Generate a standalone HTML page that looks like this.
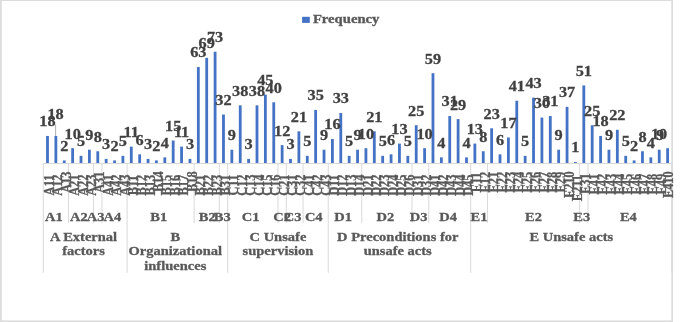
<!DOCTYPE html>
<html><head><meta charset="utf-8"><style>
html,body{margin:0;padding:0;background:#fff;}
body{width:685px;height:322px;overflow:hidden;}
svg{display:block;}
text{font-family:"Liberation Serif","Times New Roman",serif;font-weight:bold;}
.lg{font-size:13.1px;fill:#595959;stroke:#595959;stroke-width:0.35px;}
.cl{font-size:12.4px;fill:#595959;stroke:#595959;stroke-width:0.25px;text-anchor:middle;dominant-baseline:auto;}
.gl{font-size:13.3px;fill:#595959;stroke:#595959;stroke-width:0.3px;text-anchor:middle;}
.dl{font-size:15.5px;fill:#404040;stroke:#404040;stroke-width:0.3px;text-anchor:middle;}
</style></head><body>
<svg width="685" height="322" viewBox="0 0 685 322">
<rect x="0" y="0" width="685" height="322" fill="#fff"/>
<rect x="0" y="0" width="673" height="0.9" fill="#d9d9d9"/>
<rect x="0" y="0" width="1.7" height="322" fill="#dcdcdc"/>
<rect x="671.3" y="0" width="1.7" height="322" fill="#dcdcdc"/>
<rect x="0" y="320.4" width="673" height="1.6" fill="#dcdcdc"/>
<rect x="302.1" y="16.8" width="7.7" height="6.1" fill="#4472c4"/>
<text class="lg" transform="translate(312.9 22.9) scale(1.12 1)">Frequency</text>
<rect x="46.09" y="135.94" width="2.80" height="27.56" fill="#4472c4"/>
<rect x="54.47" y="135.94" width="2.80" height="27.56" fill="#4472c4"/>
<rect x="62.85" y="160.44" width="2.80" height="3.06" fill="#4472c4"/>
<rect x="71.23" y="148.19" width="2.80" height="15.31" fill="#4472c4"/>
<rect x="79.61" y="155.84" width="2.80" height="7.65" fill="#4472c4"/>
<rect x="87.99" y="149.72" width="2.80" height="13.78" fill="#4472c4"/>
<rect x="96.37" y="151.25" width="2.80" height="12.25" fill="#4472c4"/>
<rect x="104.75" y="158.91" width="2.80" height="4.59" fill="#4472c4"/>
<rect x="113.13" y="160.44" width="2.80" height="3.06" fill="#4472c4"/>
<rect x="121.51" y="155.84" width="2.80" height="7.65" fill="#4472c4"/>
<rect x="129.89" y="146.66" width="2.80" height="16.84" fill="#4472c4"/>
<rect x="138.27" y="154.31" width="2.80" height="9.19" fill="#4472c4"/>
<rect x="146.65" y="158.91" width="2.80" height="4.59" fill="#4472c4"/>
<rect x="155.03" y="160.44" width="2.80" height="3.06" fill="#4472c4"/>
<rect x="163.41" y="157.38" width="2.80" height="6.12" fill="#4472c4"/>
<rect x="171.79" y="140.53" width="2.80" height="22.96" fill="#4472c4"/>
<rect x="180.17" y="146.66" width="2.80" height="16.84" fill="#4472c4"/>
<rect x="188.55" y="158.91" width="2.80" height="4.59" fill="#4472c4"/>
<rect x="196.93" y="67.05" width="2.80" height="96.45" fill="#4472c4"/>
<rect x="205.31" y="57.86" width="2.80" height="105.64" fill="#4472c4"/>
<rect x="213.69" y="51.74" width="2.80" height="111.76" fill="#4472c4"/>
<rect x="222.07" y="114.51" width="2.80" height="48.99" fill="#4472c4"/>
<rect x="230.45" y="149.72" width="2.80" height="13.78" fill="#4472c4"/>
<rect x="238.83" y="105.32" width="2.80" height="58.18" fill="#4472c4"/>
<rect x="247.21" y="158.91" width="2.80" height="4.59" fill="#4472c4"/>
<rect x="255.59" y="105.32" width="2.80" height="58.18" fill="#4472c4"/>
<rect x="263.97" y="94.61" width="2.80" height="68.89" fill="#4472c4"/>
<rect x="272.35" y="102.26" width="2.80" height="61.24" fill="#4472c4"/>
<rect x="280.73" y="145.13" width="2.80" height="18.37" fill="#4472c4"/>
<rect x="289.11" y="158.91" width="2.80" height="4.59" fill="#4472c4"/>
<rect x="297.49" y="131.35" width="2.80" height="32.15" fill="#4472c4"/>
<rect x="305.87" y="155.84" width="2.80" height="7.65" fill="#4472c4"/>
<rect x="314.25" y="109.92" width="2.80" height="53.58" fill="#4472c4"/>
<rect x="322.63" y="149.72" width="2.80" height="13.78" fill="#4472c4"/>
<rect x="331.01" y="139.00" width="2.80" height="24.50" fill="#4472c4"/>
<rect x="339.39" y="112.98" width="2.80" height="50.52" fill="#4472c4"/>
<rect x="347.77" y="155.84" width="2.80" height="7.65" fill="#4472c4"/>
<rect x="356.15" y="149.72" width="2.80" height="13.78" fill="#4472c4"/>
<rect x="364.53" y="148.19" width="2.80" height="15.31" fill="#4472c4"/>
<rect x="372.91" y="131.35" width="2.80" height="32.15" fill="#4472c4"/>
<rect x="381.29" y="155.84" width="2.80" height="7.65" fill="#4472c4"/>
<rect x="389.67" y="154.31" width="2.80" height="9.19" fill="#4472c4"/>
<rect x="398.05" y="143.60" width="2.80" height="19.90" fill="#4472c4"/>
<rect x="406.43" y="155.84" width="2.80" height="7.65" fill="#4472c4"/>
<rect x="414.81" y="125.22" width="2.80" height="38.27" fill="#4472c4"/>
<rect x="423.19" y="148.19" width="2.80" height="15.31" fill="#4472c4"/>
<rect x="431.57" y="73.17" width="2.80" height="90.33" fill="#4472c4"/>
<rect x="439.95" y="157.38" width="2.80" height="6.12" fill="#4472c4"/>
<rect x="448.33" y="116.04" width="2.80" height="47.46" fill="#4472c4"/>
<rect x="456.71" y="119.10" width="2.80" height="44.40" fill="#4472c4"/>
<rect x="465.09" y="157.38" width="2.80" height="6.12" fill="#4472c4"/>
<rect x="473.47" y="143.60" width="2.80" height="19.90" fill="#4472c4"/>
<rect x="481.85" y="151.25" width="2.80" height="12.25" fill="#4472c4"/>
<rect x="490.23" y="128.29" width="2.80" height="35.21" fill="#4472c4"/>
<rect x="498.61" y="154.31" width="2.80" height="9.19" fill="#4472c4"/>
<rect x="506.99" y="137.47" width="2.80" height="26.03" fill="#4472c4"/>
<rect x="515.37" y="100.73" width="2.80" height="62.77" fill="#4472c4"/>
<rect x="523.75" y="155.84" width="2.80" height="7.65" fill="#4472c4"/>
<rect x="532.13" y="97.67" width="2.80" height="65.83" fill="#4472c4"/>
<rect x="540.51" y="117.57" width="2.80" height="45.93" fill="#4472c4"/>
<rect x="548.89" y="116.04" width="2.80" height="47.46" fill="#4472c4"/>
<rect x="557.27" y="149.72" width="2.80" height="13.78" fill="#4472c4"/>
<rect x="565.65" y="106.85" width="2.80" height="56.65" fill="#4472c4"/>
<rect x="574.03" y="161.97" width="2.80" height="1.53" fill="#4472c4"/>
<rect x="582.41" y="85.42" width="2.80" height="78.08" fill="#4472c4"/>
<rect x="590.79" y="125.22" width="2.80" height="38.27" fill="#4472c4"/>
<rect x="599.17" y="135.94" width="2.80" height="27.56" fill="#4472c4"/>
<rect x="607.55" y="149.72" width="2.80" height="13.78" fill="#4472c4"/>
<rect x="615.93" y="129.82" width="2.80" height="33.68" fill="#4472c4"/>
<rect x="624.31" y="155.84" width="2.80" height="7.65" fill="#4472c4"/>
<rect x="632.69" y="160.44" width="2.80" height="3.06" fill="#4472c4"/>
<rect x="641.07" y="151.25" width="2.80" height="12.25" fill="#4472c4"/>
<rect x="649.45" y="157.38" width="2.80" height="6.12" fill="#4472c4"/>
<rect x="657.83" y="149.72" width="2.80" height="13.78" fill="#4472c4"/>
<rect x="666.21" y="148.19" width="2.80" height="15.31" fill="#4472c4"/>
<line x1="43.30" y1="163.5" x2="671.80" y2="163.5" stroke="#d9d9d9" stroke-width="1"/>
<line x1="43.30" y1="163" x2="43.30" y2="272.8" stroke="#d9d9d9" stroke-width="1"/>
<line x1="127.10" y1="163" x2="127.10" y2="272.8" stroke="#d9d9d9" stroke-width="1"/>
<line x1="227.66" y1="163" x2="227.66" y2="272.8" stroke="#d9d9d9" stroke-width="1"/>
<line x1="328.22" y1="163" x2="328.22" y2="272.8" stroke="#d9d9d9" stroke-width="1"/>
<line x1="470.68" y1="163" x2="470.68" y2="272.8" stroke="#d9d9d9" stroke-width="1"/>
<line x1="671.80" y1="163" x2="671.80" y2="272.8" stroke="#d9d9d9" stroke-width="1"/>
<line x1="68.44" y1="163" x2="68.44" y2="223" stroke="#d9d9d9" stroke-width="1"/>
<line x1="93.58" y1="163" x2="93.58" y2="223" stroke="#d9d9d9" stroke-width="1"/>
<line x1="101.96" y1="163" x2="101.96" y2="223" stroke="#d9d9d9" stroke-width="1"/>
<line x1="194.14" y1="163" x2="194.14" y2="223" stroke="#d9d9d9" stroke-width="1"/>
<line x1="219.28" y1="163" x2="219.28" y2="223" stroke="#d9d9d9" stroke-width="1"/>
<line x1="277.94" y1="163" x2="277.94" y2="223" stroke="#d9d9d9" stroke-width="1"/>
<line x1="286.32" y1="163" x2="286.32" y2="223" stroke="#d9d9d9" stroke-width="1"/>
<line x1="303.08" y1="163" x2="303.08" y2="223" stroke="#d9d9d9" stroke-width="1"/>
<line x1="361.74" y1="163" x2="361.74" y2="223" stroke="#d9d9d9" stroke-width="1"/>
<line x1="412.02" y1="163" x2="412.02" y2="223" stroke="#d9d9d9" stroke-width="1"/>
<line x1="428.78" y1="163" x2="428.78" y2="223" stroke="#d9d9d9" stroke-width="1"/>
<line x1="487.44" y1="163" x2="487.44" y2="223" stroke="#d9d9d9" stroke-width="1"/>
<line x1="579.62" y1="163" x2="579.62" y2="223" stroke="#d9d9d9" stroke-width="1"/>
<line x1="588.00" y1="163" x2="588.00" y2="223" stroke="#d9d9d9" stroke-width="1"/>
<text class="cl" transform="translate(54.09 185.20) scale(1.12 1) rotate(-90)">A11</text>
<text class="cl" transform="translate(62.47 185.20) scale(1.12 1) rotate(-90)">A12</text>
<text class="cl" transform="translate(70.85 182.20) scale(1.12 1) rotate(-90)">A13</text>
<text class="cl" transform="translate(79.23 185.20) scale(1.12 1) rotate(-90)">A21</text>
<text class="cl" transform="translate(87.61 185.20) scale(1.12 1) rotate(-90)">A22</text>
<text class="cl" transform="translate(95.99 185.20) scale(1.12 1) rotate(-90)">A23</text>
<text class="cl" transform="translate(104.37 182.20) scale(1.12 1) rotate(-90)">A31</text>
<text class="cl" transform="translate(112.75 185.20) scale(1.12 1) rotate(-90)">A41</text>
<text class="cl" transform="translate(121.13 185.20) scale(1.12 1) rotate(-90)">A42</text>
<text class="cl" transform="translate(129.51 185.20) scale(1.12 1) rotate(-90)">A43</text>
<text class="cl" transform="translate(137.89 185.20) scale(1.12 1) rotate(-90)">B11</text>
<text class="cl" transform="translate(146.27 185.20) scale(1.12 1) rotate(-90)">B12</text>
<text class="cl" transform="translate(154.65 185.20) scale(1.12 1) rotate(-90)">B13</text>
<text class="cl" transform="translate(163.03 181.70) scale(1.12 1) rotate(-90)">B14</text>
<text class="cl" transform="translate(171.41 185.20) scale(1.12 1) rotate(-90)">B15</text>
<text class="cl" transform="translate(179.79 185.20) scale(1.12 1) rotate(-90)">B16</text>
<text class="cl" transform="translate(188.17 185.20) scale(1.12 1) rotate(-90)">B17</text>
<text class="cl" transform="translate(196.55 181.70) scale(1.12 1) rotate(-90)">B18</text>
<text class="cl" transform="translate(204.93 185.20) scale(1.12 1) rotate(-90)">B21</text>
<text class="cl" transform="translate(213.31 185.20) scale(1.12 1) rotate(-90)">B22</text>
<text class="cl" transform="translate(221.69 185.20) scale(1.12 1) rotate(-90)">B23</text>
<text class="cl" transform="translate(230.07 185.20) scale(1.12 1) rotate(-90)">B31</text>
<text class="cl" transform="translate(238.45 185.20) scale(1.12 1) rotate(-90)">C11</text>
<text class="cl" transform="translate(246.83 185.20) scale(1.12 1) rotate(-90)">C12</text>
<text class="cl" transform="translate(255.21 185.20) scale(1.12 1) rotate(-90)">C13</text>
<text class="cl" transform="translate(263.59 185.20) scale(1.12 1) rotate(-90)">C14</text>
<text class="cl" transform="translate(271.97 185.20) scale(1.12 1) rotate(-90)">C15</text>
<text class="cl" transform="translate(280.35 185.20) scale(1.12 1) rotate(-90)">C16</text>
<text class="cl" transform="translate(288.73 185.20) scale(1.12 1) rotate(-90)">C21</text>
<text class="cl" transform="translate(297.11 185.20) scale(1.12 1) rotate(-90)">C31</text>
<text class="cl" transform="translate(305.49 185.20) scale(1.12 1) rotate(-90)">C32</text>
<text class="cl" transform="translate(313.87 185.20) scale(1.12 1) rotate(-90)">C41</text>
<text class="cl" transform="translate(322.25 185.20) scale(1.12 1) rotate(-90)">C42</text>
<text class="cl" transform="translate(330.63 185.20) scale(1.12 1) rotate(-90)">C43</text>
<text class="cl" transform="translate(339.01 185.20) scale(1.12 1) rotate(-90)">D11</text>
<text class="cl" transform="translate(347.39 185.20) scale(1.12 1) rotate(-90)">D12</text>
<text class="cl" transform="translate(355.77 185.20) scale(1.12 1) rotate(-90)">D13</text>
<text class="cl" transform="translate(364.15 185.20) scale(1.12 1) rotate(-90)">D14</text>
<text class="cl" transform="translate(372.53 185.20) scale(1.12 1) rotate(-90)">D21</text>
<text class="cl" transform="translate(380.91 185.20) scale(1.12 1) rotate(-90)">D22</text>
<text class="cl" transform="translate(389.29 185.20) scale(1.12 1) rotate(-90)">D23</text>
<text class="cl" transform="translate(397.67 185.20) scale(1.12 1) rotate(-90)">D24</text>
<text class="cl" transform="translate(406.05 185.20) scale(1.12 1) rotate(-90)">D25</text>
<text class="cl" transform="translate(414.43 185.20) scale(1.12 1) rotate(-90)">D26</text>
<text class="cl" transform="translate(422.81 185.20) scale(1.12 1) rotate(-90)">D31</text>
<text class="cl" transform="translate(431.19 185.20) scale(1.12 1) rotate(-90)">D32</text>
<text class="cl" transform="translate(439.57 185.20) scale(1.12 1) rotate(-90)">D41</text>
<text class="cl" transform="translate(447.95 185.20) scale(1.12 1) rotate(-90)">D42</text>
<text class="cl" transform="translate(456.33 185.20) scale(1.12 1) rotate(-90)">D43</text>
<text class="cl" transform="translate(464.71 185.20) scale(1.12 1) rotate(-90)">D44</text>
<text class="cl" transform="translate(473.09 185.20) scale(1.12 1) rotate(-90)">D45</text>
<text class="cl" transform="translate(481.47 182.20) scale(1.12 1) rotate(-90)">E11</text>
<text class="cl" transform="translate(489.85 182.20) scale(1.12 1) rotate(-90)">E12</text>
<text class="cl" transform="translate(498.23 182.20) scale(1.12 1) rotate(-90)">E21</text>
<text class="cl" transform="translate(506.61 182.20) scale(1.12 1) rotate(-90)">E22</text>
<text class="cl" transform="translate(514.99 182.20) scale(1.12 1) rotate(-90)">E23</text>
<text class="cl" transform="translate(523.37 182.20) scale(1.12 1) rotate(-90)">E24</text>
<text class="cl" transform="translate(531.75 182.20) scale(1.12 1) rotate(-90)">E25</text>
<text class="cl" transform="translate(540.13 182.20) scale(1.12 1) rotate(-90)">E26</text>
<text class="cl" transform="translate(548.51 182.20) scale(1.12 1) rotate(-90)">E27</text>
<text class="cl" transform="translate(556.89 182.20) scale(1.12 1) rotate(-90)">E28</text>
<text class="cl" transform="translate(565.27 182.20) scale(1.12 1) rotate(-90)">E29</text>
<text class="cl" transform="translate(573.65 184.70) scale(1.12 1) rotate(-90)">E210</text>
<text class="cl" transform="translate(582.03 188.20) scale(1.12 1) rotate(-90)">E211</text>
<text class="cl" transform="translate(590.41 183.70) scale(1.12 1) rotate(-90)">E31</text>
<text class="cl" transform="translate(598.79 184.20) scale(1.12 1) rotate(-90)">E41</text>
<text class="cl" transform="translate(607.17 184.20) scale(1.12 1) rotate(-90)">E42</text>
<text class="cl" transform="translate(615.55 184.20) scale(1.12 1) rotate(-90)">E43</text>
<text class="cl" transform="translate(623.93 184.20) scale(1.12 1) rotate(-90)">E44</text>
<text class="cl" transform="translate(632.31 184.20) scale(1.12 1) rotate(-90)">E45</text>
<text class="cl" transform="translate(640.69 184.20) scale(1.12 1) rotate(-90)">E46</text>
<text class="cl" transform="translate(649.07 184.20) scale(1.12 1) rotate(-90)">E47</text>
<text class="cl" transform="translate(657.45 184.20) scale(1.12 1) rotate(-90)">E48</text>
<text class="cl" transform="translate(665.83 184.20) scale(1.12 1) rotate(-90)">E49</text>
<text class="cl" transform="translate(673.01 184.70) scale(1.12 1) rotate(-90)">E410</text>
<text class="gl" transform="translate(53.97 221.2) scale(1.09 1)">A1</text>
<text class="gl" transform="translate(78.91 221.2) scale(1.09 1)">A2</text>
<text class="gl" transform="translate(95.67 221.2) scale(1.09 1)">A3</text>
<text class="gl" transform="translate(112.43 221.2) scale(1.09 1)">A4</text>
<text class="gl" transform="translate(158.82 221.2) scale(1.09 1)">B1</text>
<text class="gl" transform="translate(207.21 221.2) scale(1.09 1)">B2</text>
<text class="gl" transform="translate(222.17 221.2) scale(1.09 1)">B3</text>
<text class="gl" transform="translate(250.60 221.2) scale(1.09 1)">C1</text>
<text class="gl" transform="translate(282.13 221.2) scale(1.09 1)">C2</text>
<text class="gl" transform="translate(292.70 221.2) scale(1.09 1)">C3</text>
<text class="gl" transform="translate(313.75 221.2) scale(1.09 1)">C4</text>
<text class="gl" transform="translate(343.18 221.2) scale(1.09 1)">D1</text>
<text class="gl" transform="translate(385.28 221.2) scale(1.09 1)">D2</text>
<text class="gl" transform="translate(418.70 221.2) scale(1.09 1)">D3</text>
<text class="gl" transform="translate(448.03 221.2) scale(1.09 1)">D4</text>
<text class="gl" transform="translate(479.06 221.2) scale(1.09 1)">E1</text>
<text class="gl" transform="translate(533.53 221.2) scale(1.09 1)">E2</text>
<text class="gl" transform="translate(581.81 221.2) scale(1.09 1)">E3</text>
<text class="gl" transform="translate(628.40 221.2) scale(1.09 1)">E4</text>
<text class="gl" transform="translate(83.50 240.80) scale(1.09 1)">A External</text>
<text class="gl" transform="translate(83.50 255.20) scale(1.09 1)">factors</text>
<text class="gl" transform="translate(175.28 240.80) scale(1.09 1)">B</text>
<text class="gl" transform="translate(175.28 255.20) scale(1.09 1)">Organizational</text>
<text class="gl" transform="translate(175.28 269.60) scale(1.09 1)">influences</text>
<text class="gl" transform="translate(277.94 240.80) scale(1.09 1)">C Unsafe</text>
<text class="gl" transform="translate(277.94 255.20) scale(1.09 1)">supervision</text>
<text class="gl" transform="translate(397.75 240.80) scale(1.09 1)">D Preconditions for</text>
<text class="gl" transform="translate(397.75 255.20) scale(1.09 1)">unsafe acts</text>
<text class="gl" transform="translate(571.24 240.80) scale(1.09 1)">E Unsafe acts</text>
<text class="dl" transform="translate(47.49 126.34) scale(1.05 1)">18</text>
<text class="dl" transform="translate(55.57 119.34) scale(1.05 1)">18</text>
<line x1="55.6" y1="124.6" x2="55.6" y2="135.94" stroke="#a6a6a6" stroke-width="0.9"/>
<text class="dl" transform="translate(64.25 150.84) scale(1.05 1)">2</text>
<text class="dl" transform="translate(72.63 138.59) scale(1.05 1)">10</text>
<text class="dl" transform="translate(81.01 146.25) scale(1.05 1)">5</text>
<text class="dl" transform="translate(89.39 140.12) scale(1.05 1)">9</text>
<text class="dl" transform="translate(97.77 141.65) scale(1.05 1)">8</text>
<text class="dl" transform="translate(106.15 149.31) scale(1.05 1)">3</text>
<text class="dl" transform="translate(114.53 150.84) scale(1.05 1)">2</text>
<text class="dl" transform="translate(122.91 146.25) scale(1.05 1)">5</text>
<text class="dl" transform="translate(131.29 137.06) scale(1.05 1)">11</text>
<text class="dl" transform="translate(139.67 144.71) scale(1.05 1)">6</text>
<text class="dl" transform="translate(148.05 149.31) scale(1.05 1)">3</text>
<text class="dl" transform="translate(156.43 150.84) scale(1.05 1)">2</text>
<text class="dl" transform="translate(164.81 147.78) scale(1.05 1)">4</text>
<text class="dl" transform="translate(173.19 130.94) scale(1.05 1)">15</text>
<text class="dl" transform="translate(181.57 137.06) scale(1.05 1)">11</text>
<text class="dl" transform="translate(189.95 149.31) scale(1.05 1)">3</text>
<text class="dl" transform="translate(198.33 57.45) scale(1.05 1)">63</text>
<text class="dl" transform="translate(206.71 48.26) scale(1.05 1)">69</text>
<text class="dl" transform="translate(215.09 42.14) scale(1.05 1)">73</text>
<text class="dl" transform="translate(223.47 104.91) scale(1.05 1)">32</text>
<text class="dl" transform="translate(231.85 140.12) scale(1.05 1)">9</text>
<text class="dl" transform="translate(240.23 95.72) scale(1.05 1)">38</text>
<text class="dl" transform="translate(248.61 149.31) scale(1.05 1)">3</text>
<text class="dl" transform="translate(256.99 95.72) scale(1.05 1)">38</text>
<text class="dl" transform="translate(265.37 85.01) scale(1.05 1)">45</text>
<text class="dl" transform="translate(273.75 92.66) scale(1.05 1)">40</text>
<text class="dl" transform="translate(282.13 135.53) scale(1.05 1)">12</text>
<text class="dl" transform="translate(290.51 149.31) scale(1.05 1)">3</text>
<text class="dl" transform="translate(298.89 121.75) scale(1.05 1)">21</text>
<text class="dl" transform="translate(307.27 146.25) scale(1.05 1)">5</text>
<text class="dl" transform="translate(315.65 100.32) scale(1.05 1)">35</text>
<text class="dl" transform="translate(324.03 140.12) scale(1.05 1)">9</text>
<text class="dl" transform="translate(332.41 129.40) scale(1.05 1)">16</text>
<text class="dl" transform="translate(340.79 103.38) scale(1.05 1)">33</text>
<text class="dl" transform="translate(349.17 146.25) scale(1.05 1)">5</text>
<text class="dl" transform="translate(357.55 140.12) scale(1.05 1)">9</text>
<text class="dl" transform="translate(365.93 138.59) scale(1.05 1)">10</text>
<text class="dl" transform="translate(374.31 121.75) scale(1.05 1)">21</text>
<text class="dl" transform="translate(382.69 146.25) scale(1.05 1)">5</text>
<text class="dl" transform="translate(391.07 144.71) scale(1.05 1)">6</text>
<text class="dl" transform="translate(399.45 134.00) scale(1.05 1)">13</text>
<text class="dl" transform="translate(407.83 146.25) scale(1.05 1)">5</text>
<text class="dl" transform="translate(416.21 115.62) scale(1.05 1)">25</text>
<text class="dl" transform="translate(424.59 138.59) scale(1.05 1)">10</text>
<text class="dl" transform="translate(432.97 63.57) scale(1.05 1)">59</text>
<text class="dl" transform="translate(441.35 147.78) scale(1.05 1)">4</text>
<text class="dl" transform="translate(449.73 106.44) scale(1.05 1)">31</text>
<text class="dl" transform="translate(458.11 109.50) scale(1.05 1)">29</text>
<text class="dl" transform="translate(466.49 147.78) scale(1.05 1)">4</text>
<text class="dl" transform="translate(474.87 134.00) scale(1.05 1)">13</text>
<text class="dl" transform="translate(483.25 141.65) scale(1.05 1)">8</text>
<text class="dl" transform="translate(491.63 118.69) scale(1.05 1)">23</text>
<text class="dl" transform="translate(500.01 144.71) scale(1.05 1)">6</text>
<text class="dl" transform="translate(508.39 127.87) scale(1.05 1)">17</text>
<text class="dl" transform="translate(516.77 91.13) scale(1.05 1)">41</text>
<text class="dl" transform="translate(525.15 146.25) scale(1.05 1)">5</text>
<text class="dl" transform="translate(533.53 88.07) scale(1.05 1)">43</text>
<text class="dl" transform="translate(541.91 107.97) scale(1.05 1)">30</text>
<text class="dl" transform="translate(550.29 106.44) scale(1.05 1)">31</text>
<text class="dl" transform="translate(558.67 140.12) scale(1.05 1)">9</text>
<text class="dl" transform="translate(567.05 97.25) scale(1.05 1)">37</text>
<text class="dl" transform="translate(575.43 152.37) scale(1.05 1)">1</text>
<text class="dl" transform="translate(583.81 75.82) scale(1.05 1)">51</text>
<text class="dl" transform="translate(592.19 115.62) scale(1.05 1)">25</text>
<text class="dl" transform="translate(600.57 126.34) scale(1.05 1)">18</text>
<text class="dl" transform="translate(608.95 140.12) scale(1.05 1)">9</text>
<text class="dl" transform="translate(617.33 120.22) scale(1.05 1)">22</text>
<text class="dl" transform="translate(625.71 146.25) scale(1.05 1)">5</text>
<text class="dl" transform="translate(634.09 150.84) scale(1.05 1)">2</text>
<text class="dl" transform="translate(642.47 141.65) scale(1.05 1)">8</text>
<text class="dl" transform="translate(650.85 147.78) scale(1.05 1)">4</text>
<text class="dl" transform="translate(660.03 140.12) scale(1.05 1)">9</text>
<text class="dl" transform="translate(659.01 138.59) scale(1.05 1)">10</text>
</svg>
</body></html>
